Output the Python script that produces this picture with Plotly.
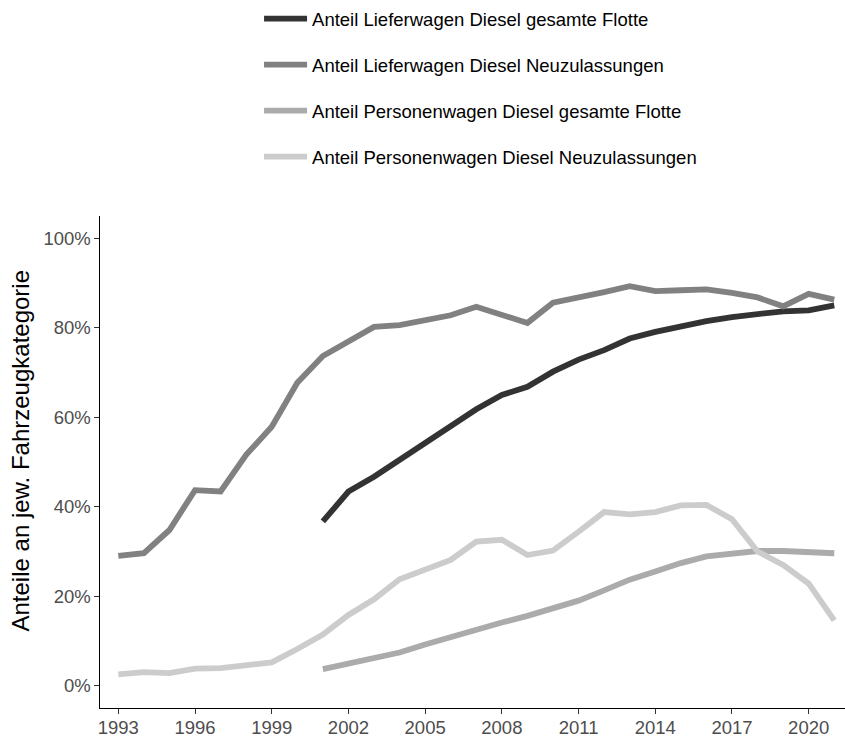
import plotly.graph_objects as go

years = list(range(1993, 2022))

# Anteile in %
lief_flotte = [None]*8 + [36.7, 43.4, 46.7, 50.4, 54.2, 57.9, 61.8, 65.0, 66.8, 70.2,
                          72.9, 75.0, 77.6, 79.1, 80.4, 81.5, 82.4, 83.2, 83.7, 83.9, 85.0]
lief_neu = [29.0, 29.6, 34.8, 43.7, 43.4, 51.6, 57.9, 67.7, 73.7, 76.9, 80.2, 80.6, 81.8,
            82.8, 84.7, 82.8, 81.1, 85.6, 86.7, 88.0, 89.3, 88.2, 88.4, 88.6, 87.8, 86.8,
            84.8, 87.6, 86.3]
pw_flotte = [None]*8 + [3.7, 4.9, 6.0, 7.4, 9.2, 10.9, 12.5, 14.1, 15.6, 17.2, 19.0, 21.3,
                        23.7, 25.5, 27.4, 28.9, 29.6, 30.1, 30.1, 29.8, 29.6]
pw_neu = [2.5, 3.0, 2.8, 3.8, 3.9, 4.5, 5.2, 8.2, 11.4, 15.8, 19.3, 23.8, 25.9, 28.1, 32.2,
          32.6, 29.2, 30.2, 34.4, 38.8, 38.3, 38.8, 40.3, 40.4, 37.2, 30.0, 27.0, 22.8, 14.6]

series_names = [
    "Anteil Lieferwagen Diesel gesamte Flotte",
    "Anteil Lieferwagen Diesel Neuzulassungen",
    "Anteil Personenwagen Diesel gesamte Flotte",
    "Anteil Personenwagen Diesel Neuzulassungen",
]
series_values = [lief_flotte, lief_neu, pw_flotte, pw_neu]
series_colors = ["#333333", "#818181", "#ababab", "#cccccc"]

x_ticks = list(range(1993, 2021, 3))
y_ticks = [0, 20, 40, 60, 80, 100]
y_tick_labels = ["0%", "20%", "40%", "60%", "80%", "100%"]

FONT = "Liberation Sans, Arial, Helvetica, sans-serif"

fig = go.Figure()
for name, vals, col in zip(series_names, series_values, series_colors):
    fig.add_trace(go.Scatter(
        x=years, y=vals, mode="lines", name=name, legendgroup=name,
        line=dict(color=col, width=5.8), connectgaps=False,
    ))

fig.update_layout(
    width=845, height=736,
    margin=dict(l=100, r=0, t=215, b=28),
    paper_bgcolor="white", plot_bgcolor="white",
    font=dict(family=FONT, color="#000000"),
    showlegend=True,
    legend=dict(
        orientation="v", xref="paper", yref="paper",
        x=0.2135, y=1.44, xanchor="left", yanchor="top",
        font=dict(family=FONT, size=18.5, color="#000000"),
        tracegroupgap=19, itemwidth=43, traceorder="grouped",
        bgcolor="rgba(0,0,0,0)",
    ),
    xaxis=dict(
        range=[1992.284, 2021.42], tickmode="array", tickvals=x_ticks,
        showgrid=False, zeroline=False, showline=True, linecolor="#000000", linewidth=1.1,
        ticks="outside", ticklen=4.5, tickwidth=1.1, tickcolor="#333333",
        tickfont=dict(family=FONT, size=18.5, color="#4d4d4d"), automargin=False,
        ticklabelstandoff=-2,
    ),
    yaxis=dict(
        range=[-5, 105], tickmode="array", tickvals=y_ticks, ticktext=y_tick_labels,
        showgrid=False, zeroline=False, showline=True, linecolor="#000000", linewidth=1.1,
        ticks="outside", ticklen=4.5, tickwidth=1.1, tickcolor="#333333",
        tickfont=dict(family=FONT, size=18.5, color="#4d4d4d"), automargin=False,
    ),
    annotations=[dict(
        text="Anteile an jew. Fahrzeugkategorie", textangle=-90,
        xref="paper", yref="paper", x=(21 - 100) / 745, y=(708 - 450) / 493,
        xanchor="center", yanchor="middle", showarrow=False,
        font=dict(family=FONT, size=24, color="#000000"),
    )],
)

fig.write_html(
    "out.html",
    config={"displayModeBar": False},
    post_script="document.body.style.margin='0';document.body.style.overflow='hidden';",
)
